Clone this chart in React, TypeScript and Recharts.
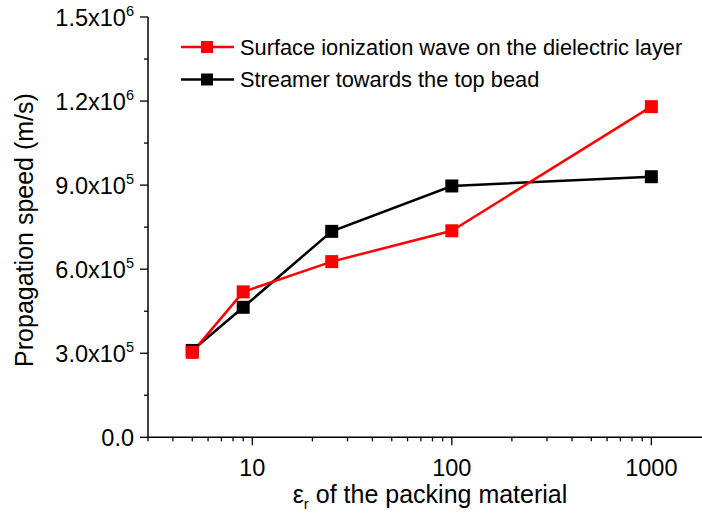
import React from 'react';
import { LineChart, Line, XAxis, YAxis, Legend } from 'recharts';

// Relative permittivity of the packing material (log axis)
const permittivity = [5, 9, 25, 100, 1000];
// Propagation speeds in m/s
const surfaceWaveSpeed = [3.03e5, 5.19e5, 6.27e5, 7.37e5, 1.18e6];
const streamerSpeed = [3.1e5, 4.64e5, 7.35e5, 8.97e5, 9.3e5];

const xMajorTicks = [10, 100, 1000];
const xMinorTicks = [3, 4, 5, 6, 7, 8, 9, 20, 30, 40, 50, 60, 70, 80, 90, 200, 300, 400, 500, 600, 700, 800, 900, 2000];
const yMajorTicks = [0, 3e5, 6e5, 9e5, 1.2e6, 1.5e6];
const yMinorTicks = [1.5e5, 4.5e5, 7.5e5, 1.05e6, 1.35e6];

const seriesNames = {
  surface: 'Surface ionization wave on the dielectric layer',
  streamer: 'Streamer towards the top bead',
};

const RED = '#ff0000';
const BLACK = '#000000';
const FONT = '"Liberation Sans", Arial, Helvetica, sans-serif';

const data = permittivity.map((eps, i) => ({
  eps,
  surface: surfaceWaveSpeed[i],
  streamer: streamerSpeed[i],
}));

const xTicks = [...xMajorTicks, ...xMinorTicks].sort((a, b) => a - b);
const yTicks = [...yMajorTicks, ...yMinorTicks].sort((a, b) => a - b);

const XTick = (props: any) => {
  const { x, y, payload } = props;
  const major = xMajorTicks.includes(payload.value);
  return (
    <g>
      <line x1={x} x2={x} y1={y} y2={y + (major ? 8 : 4)} stroke="#000" strokeWidth={1.3} />
      {major && (
        <text x={x} y={y + 39} textAnchor="middle" fontSize={23.5} fontFamily={FONT} fill="#000">
          {String(payload.value)}
        </text>
      )}
    </g>
  );
};

const formatSci = (v: number) => {
  if (v === 0) return { mant: '0.0', exp: '' };
  const exp = Math.floor(Math.log10(v));
  const mant = (v / Math.pow(10, exp)).toFixed(1);
  return { mant: `${mant}x10`, exp: String(exp) };
};

const YTick = (props: any) => {
  const { x, y, payload } = props;
  const major = yMajorTicks.includes(payload.value);
  const { mant, exp } = formatSci(payload.value);
  return (
    <g>
      <line x1={x} x2={x - (major ? 8 : 4)} y1={y} y2={y} stroke="#000" strokeWidth={1.3} />
      {major && (
        <text x={x - 14} y={y + 8.5} textAnchor="end" fontSize={23.5} fontFamily={FONT} fill="#000">
          {mant}
          {exp && (
            <tspan fontSize={14.5} dy={-10}>
              {exp}
            </tspan>
          )}
        </text>
      )}
    </g>
  );
};

const Square = (color: string) => (props: any) => {
  const { cx, cy, index } = props;
  if (cx == null || cy == null) return null;
  return <rect key={`sq-${color}-${index}`} x={cx - 6.5} y={cy - 6.5} width={13} height={13} fill={color} />;
};

const LegendBox = () => {
  const rows = [
    { name: seriesNames.surface, color: RED, y: 47 },
    { name: seriesNames.streamer, color: BLACK, y: 79.5 },
  ];
  return (
    <svg width={702} height={110} style={{ display: 'block' }}>
      {rows.map((r) => (
        <g key={r.name}>
          <line x1={181} x2={234} y1={r.y} y2={r.y} stroke={r.color} strokeWidth={2.5} />
          <rect x={201} y={r.y - 6} width={12} height={12} fill={r.color} />
          <text x={240} y={r.y + 7.5} fontSize={21.8} fontFamily={FONT} fill="#000">
            {r.name}
          </text>
        </g>
      ))}
    </svg>
  );
};

const YTitle = () => (
  <text
    x={33}
    y={230}
    transform="rotate(-90 33 230)"
    textAnchor="middle"
    fontSize={25}
    fontFamily={FONT}
    fill="#000"
  >
    Propagation speed (m/s)
  </text>
);

const XTitle = () => (
  <text x={430} y={503} textAnchor="middle" fontSize={25} fontFamily={FONT} fill="#000">
    ε
    <tspan fontSize={15} dy={6}>
      r
    </tspan>
    <tspan dy={-6}> of the packing material</tspan>
  </text>
);

export default function App() {
  return (
    <div
      style={{
        position: 'absolute',
        left: 0,
        top: 0,
        width: 702,
        height: 515,
        overflow: 'hidden',
        background: '#fff',
      }}
    >
      <LineChart
        width={730}
        height={515}
        data={data}
        margin={{ top: 17, right: 18.6, bottom: 0, left: 0 }}
      >
        <XAxis
          dataKey="eps"
          type="number"
          scale="log"
          domain={[3, 2000]}
          ticks={xTicks}
          allowDataOverflow
          interval={0}
          tick={<XTick />}
          tickLine={false}
          tickSize={0}
          tickMargin={0}
          height={77.7}
          axisLine={{ stroke: '#000', strokeWidth: 1.5 }}
          label={<XTitle />}
        />
        <YAxis
          type="number"
          domain={[0, 1.5e6]}
          ticks={yTicks}
          interval={0}
          width={148}
          tick={<YTick />}
          tickLine={false}
          tickSize={0}
          tickMargin={0}
          axisLine={{ stroke: '#000', strokeWidth: 1.5 }}
          label={<YTitle />}
        />
        <Legend
          layout="vertical"
          align="center"
          verticalAlign="middle"
          content={<LegendBox />}
          wrapperStyle={{ left: 0, top: 0, width: 702, height: 110 }}
        />
        <Line
          dataKey="streamer"
          name={seriesNames.streamer}
          stroke={BLACK}
          strokeWidth={2.5}
          dot={Square(BLACK)}
          activeDot={false}
          isAnimationActive={false}
        />
        <Line
          dataKey="surface"
          name={seriesNames.surface}
          stroke={RED}
          strokeWidth={2.5}
          dot={Square(RED)}
          activeDot={false}
          isAnimationActive={false}
        />
      </LineChart>
    </div>
  );
}
